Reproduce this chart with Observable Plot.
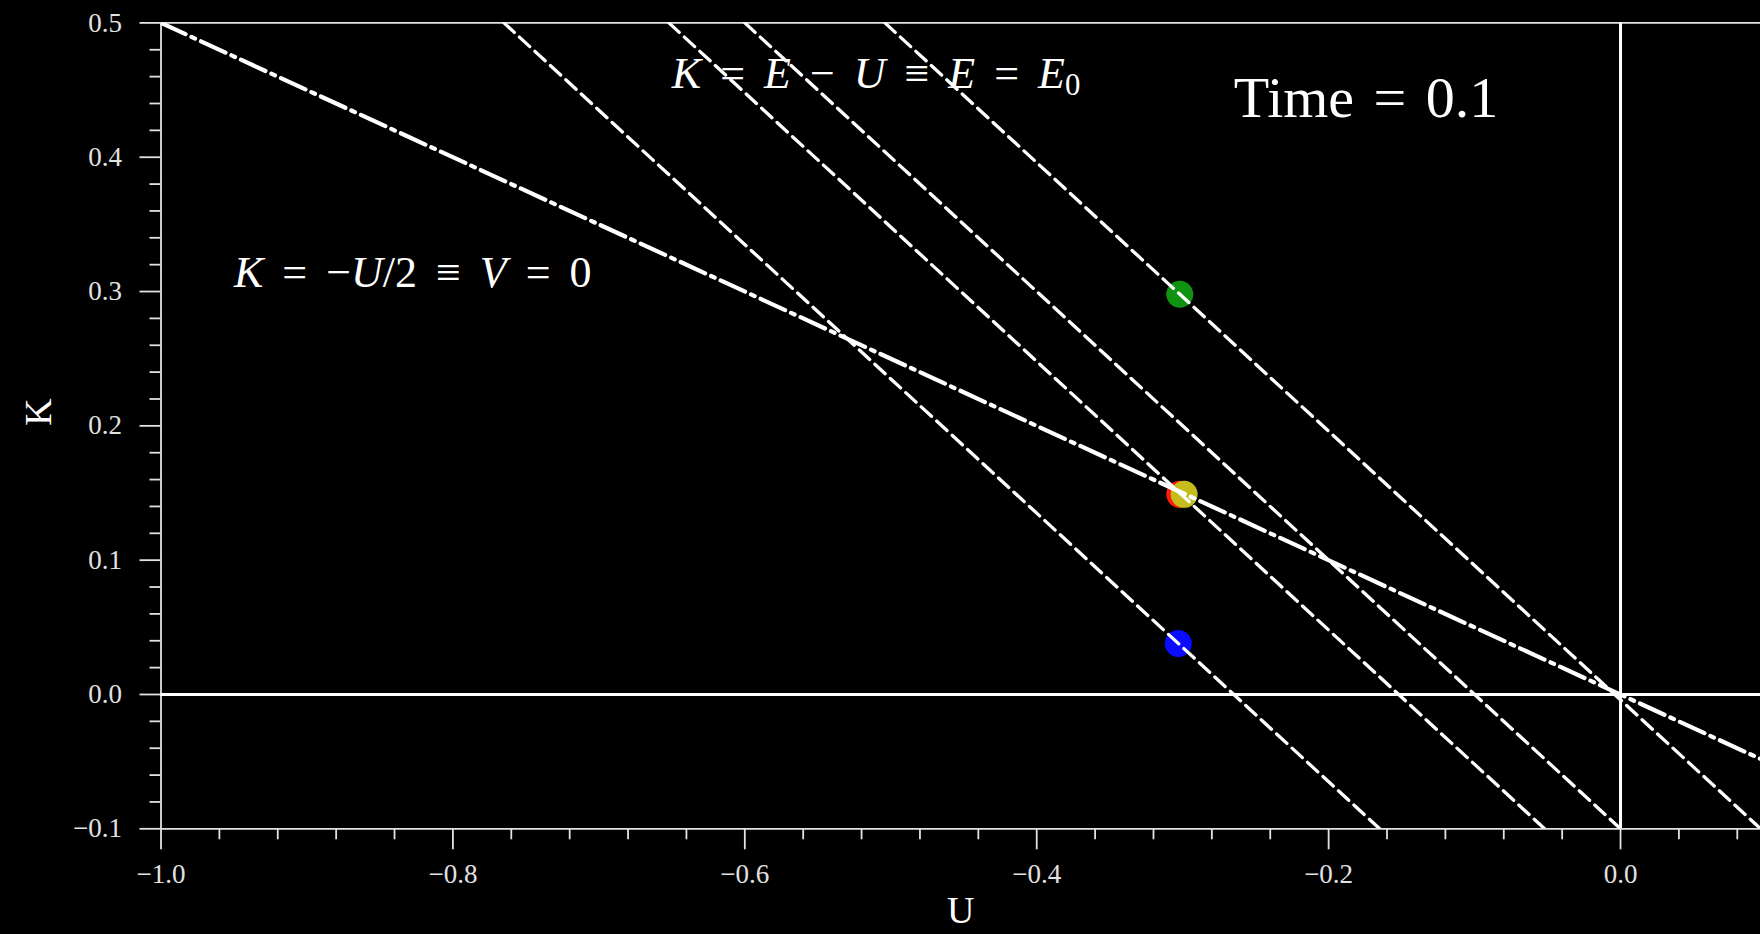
<!DOCTYPE html>
<html>
<head>
<meta charset="utf-8">
<script src="https://cdn.jsdelivr.net/npm/d3@7"></script>
<script src="https://cdn.jsdelivr.net/npm/@observablehq/plot@0.6"></script>
<style>
  html, body { margin: 0; padding: 0; background: #000; overflow: hidden; }
  #chart svg { display: block; }
</style>
</head>
<body>
<div id="chart"></div>
<script>
// ---- scale extents and ticks ----
const xDomain = [-1.0, 0.0959];
const yDomain = [-0.1, 0.5];
const xMajorTicks = [-1.0, -0.8, -0.6, -0.4, -0.2, 0.0];
const xMinorTicks = [-0.96, -0.92, -0.88, -0.84, -0.76, -0.72, -0.68, -0.64,
                     -0.56, -0.52, -0.48, -0.44, -0.36, -0.32, -0.28, -0.24,
                     -0.16, -0.12, -0.08, -0.04, 0.04, 0.08];
const yMajorTicks = [-0.1, 0.0, 0.1, 0.2, 0.3, 0.4, 0.5];
const yMinorTicks = [-0.08, -0.06, -0.04, -0.02, 0.02, 0.04, 0.06, 0.08,
                     0.12, 0.14, 0.16, 0.18, 0.22, 0.24, 0.26, 0.28,
                     0.32, 0.34, 0.36, 0.38, 0.42, 0.44, 0.46, 0.48];

const energyLines   = ["E1", "E2", "E3", "E4"];
const energyTopU    = [-0.765, -0.652, -0.600, -0.504]; // U at K = 0.5
const energyBottomU = [-0.165, -0.052, 0.000, 0.096];   // U at K = -0.1

// ---- virial line K = -U/2 ----
const virialU = [-1.0, 0.0959];
const virialK = [0.5, -0.048];

// ---- particles ----
const pointNames  = ["green", "blue", "red", "yellow"];
const pointU      = [-0.302, -0.303, -0.302, -0.299];
const pointK      = [0.298, 0.038, 0.149, 0.149];
const pointColors = ["#129212", "#0b0bff", "#ff1a0a", "#c4bd1c"];

// ---- annotations ----
const mathText = ["K = −U/2 ≡ V = 0", "K = E − U ≡ E = E0"];
const mathU    = [-0.95, -0.65];
const mathK    = [0.3035, 0.4515];
const timeText = ["Time = 0.1"];
const timeU    = [-0.265];
const timeK    = [0.430];

// ---- tables for the library ----
const energyData = energyLines.flatMap((s, i) => [
  {s, U: energyTopU[i], K: yDomain[1]},
  {s, U: energyBottomU[i], K: yDomain[0]}
]);
const virialData = virialU.map((U, i) => ({U, K: virialK[i]}));
const pointData = pointNames.map((name, i) => ({name, U: pointU[i], K: pointK[i], color: pointColors[i]}));
const mathData = mathText.map((t, i) => ({t, U: mathU[i], K: mathK[i]}));
const timeData = timeText.map((t, i) => ({t, U: timeU[i], K: timeK[i]}));

const fmt = d => (d < 0 ? "−" : "") + Math.abs(d).toFixed(1);
const tickColor = "#e2e2e2";

const chart = Plot.plot({
  width: 1760,
  height: 934,
  marginLeft: 160.5,
  marginRight: 0,
  marginTop: 22.4,
  marginBottom: 105.7,
  style: {background: "#000", color: tickColor, fontFamily: "'Liberation Serif', 'DejaVu Serif', serif"},
  x: {domain: xDomain, label: null},
  y: {domain: yDomain, label: null},
  marks: [
    // minor ticks
    Plot.axisX(xMinorTicks, {tickSize: 11, strokeWidth: 1.8, tickFormat: () => "", label: null}),
    Plot.axisY(yMinorTicks, {tickSize: 11, strokeWidth: 1.8, tickFormat: () => "", label: null}),
    // major ticks
    Plot.axisX(xMajorTicks, {tickSize: 21, tickPadding: 14, strokeWidth: 1.8, tickFormat: fmt, fontSize: 27, label: null}),
    Plot.axisY(yMajorTicks, {tickSize: 21, tickPadding: 18, strokeWidth: 1.8, tickFormat: fmt, fontSize: 27, label: null}),
    // spines
    Plot.ruleY(yDomain, {stroke: tickColor, strokeWidth: 1.8}),
    Plot.ruleX([xDomain[0]], {stroke: tickColor, strokeWidth: 1.8}),
    // zero axes
    Plot.ruleY([0], {stroke: "#fff", strokeWidth: 3}),
    Plot.ruleX([0], {stroke: "#fff", strokeWidth: 3}),
    // particles
    Plot.dot(pointData, {x: "U", y: "K", r: 13.5, fill: "color", stroke: null}),
    // energy lines
    Plot.line(energyData, {x: "U", y: "K", z: "s", stroke: "#fff", strokeWidth: 3.3, strokeDasharray: "14,7", clip: true}),
    // virial line
    Plot.line(virialData, {x: "U", y: "K", stroke: "#fff", strokeWidth: 4.2, strokeDasharray: "27,6.5,4,6.5", clip: true}),
    // annotations
    Plot.text(mathData, {x: "U", y: "K", text: "t", textAnchor: "start", lineAnchor: "bottom", fontSize: 44, fill: "#fff"}),
    Plot.text(timeData, {x: "U", y: "K", text: "t", textAnchor: "start", lineAnchor: "bottom", fontSize: 58, fill: "#fff"}),
    // axis labels
    Plot.text(["U"], {frameAnchor: "bottom", dy: 94, lineAnchor: "bottom", fontSize: 38, fill: "#fff"}),
    Plot.text(["K"], {frameAnchor: "left", dx: -110, rotate: -90, lineAnchor: "bottom", fontSize: 38, fill: "#fff"})
  ]
});

// math typesetting: italic variables, upright operators/digits, subscript after E
const ns = "http://www.w3.org/2000/svg";
chart.querySelectorAll("text").forEach(t => {
  const s = t.textContent;
  if (timeText.includes(s)) t.setAttribute("word-spacing", "5");
  if (!mathText.includes(s)) return;
  t.setAttribute("word-spacing", "8");
  while (t.firstChild) t.removeChild(t.firstChild);
  for (let i = 0; i < s.length; i++) {
    const c = s[i];
    const sp = document.createElementNS(ns, "tspan");
    sp.textContent = c;
    if (/[A-Z]/.test(c)) {
      sp.setAttribute("font-style", "italic");
    } else if (c === "0" && s[i - 1] === "E") {
      sp.setAttribute("font-size", "0.7em");
      sp.setAttribute("dy", "0.22em");
    }
    t.appendChild(sp);
  }
});

document.getElementById("chart").appendChild(chart);
</script>
</body>
</html>
